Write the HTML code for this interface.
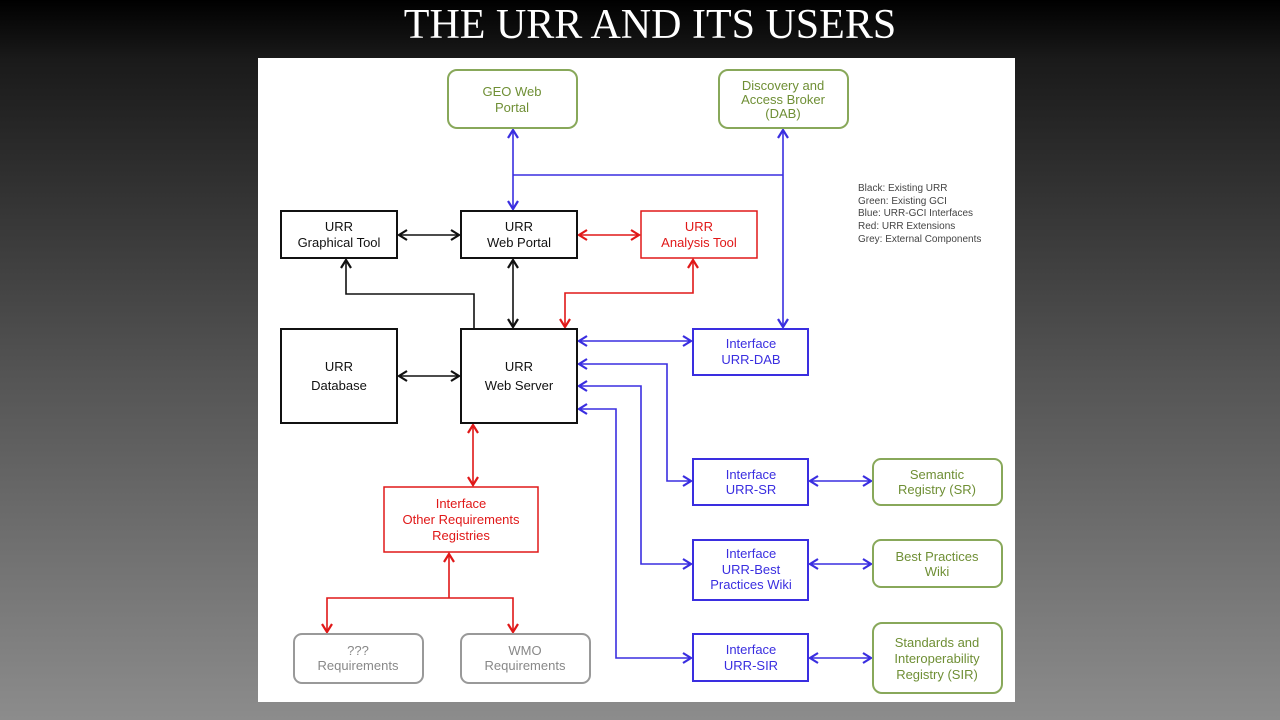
<!DOCTYPE html>
<html><head><meta charset="utf-8"><style>
html,body{margin:0;padding:0;width:1280px;height:720px;overflow:hidden}
body{background:linear-gradient(#000 0px,#1a1a1a 60px,#555 380px,#8c8c8c 720px);font-family:"Liberation Sans",sans-serif}
.t{position:absolute;left:0;width:1300px;top:1px;text-align:center;color:#fff;font:42px "Liberation Serif",serif;}
svg{position:absolute;left:0;top:0}
text{font-family:"Liberation Sans",sans-serif;font-size:13px;text-anchor:middle}
</style></head><body>
<div class="t">THE URR AND ITS USERS</div>
<svg width="1280" height="720" viewBox="0 0 1280 720">
<defs>
<marker id="k" markerWidth="12" markerHeight="12" refX="9" refY="6" orient="auto-start-reverse" markerUnits="userSpaceOnUse"><path d="M1,1 L9,6 L1,11" fill="none" stroke="#111" stroke-width="2.2"/></marker>
<marker id="r" markerWidth="12" markerHeight="12" refX="9" refY="6" orient="auto-start-reverse" markerUnits="userSpaceOnUse"><path d="M1,1 L9,6 L1,11" fill="none" stroke="#e01818" stroke-width="2.2"/></marker>
<marker id="b" markerWidth="12" markerHeight="12" refX="9" refY="6" orient="auto-start-reverse" markerUnits="userSpaceOnUse"><path d="M1,1 L9,6 L1,11" fill="none" stroke="#3a2ee0" stroke-width="2.2"/></marker>
</defs>
<rect x="258" y="58" width="757" height="644" fill="#fff"/>
<g fill="none" stroke-width="1.6">
<g stroke="#3a2ee0">
<path d="M513,130 V209" marker-start="url(#b)" marker-end="url(#b)"/>
<path d="M513,175 H783"/>
<path d="M783,130 V327" marker-start="url(#b)" marker-end="url(#b)"/>
<path d="M579,341 H691" marker-start="url(#b)" marker-end="url(#b)"/>
<path d="M691,481 H667 V364 H579" marker-start="url(#b)" marker-end="url(#b)"/>
<path d="M691,564 H641 V386 H579" marker-start="url(#b)" marker-end="url(#b)"/>
<path d="M691,658 H616 V409 H579" marker-start="url(#b)" marker-end="url(#b)"/>
<path d="M810,481 H871" marker-start="url(#b)" marker-end="url(#b)"/>
<path d="M810,564 H871" marker-start="url(#b)" marker-end="url(#b)"/>
<path d="M810,658 H871" marker-start="url(#b)" marker-end="url(#b)"/>
</g>
<g stroke="#111">
<path d="M399,235 H459" marker-start="url(#k)" marker-end="url(#k)"/>
<path d="M513,260 V327" marker-start="url(#k)" marker-end="url(#k)"/>
<path d="M474,329 V294 H346 V260" marker-end="url(#k)"/>
<path d="M399,376 H459" marker-start="url(#k)" marker-end="url(#k)"/>
</g>
<g stroke="#e01818">
<path d="M579,235 H639" marker-start="url(#r)" marker-end="url(#r)"/>
<path d="M565,327 V293 H693 V260" marker-start="url(#r)" marker-end="url(#r)"/>
<path d="M473,425 V485" marker-start="url(#r)" marker-end="url(#r)"/>
<path d="M449,598 V554" marker-end="url(#r)"/>
<path d="M327,632 V598 H513 V632" marker-start="url(#r)" marker-end="url(#r)"/>
</g>
</g>
<g fill="#fff" stroke-width="2">
<g stroke="#88a85a">
<rect x="448" y="70" width="129" height="58" rx="9"/>
<rect x="719" y="70" width="129" height="58" rx="9"/>
<rect x="873" y="459" width="129" height="46" rx="8"/>
<rect x="873" y="540" width="129" height="47" rx="8"/>
<rect x="873" y="623" width="129" height="70" rx="9"/>
</g>
<g stroke="#111">
<rect x="281" y="211" width="116" height="47"/>
<rect x="461" y="211" width="116" height="47"/>
<rect x="281" y="329" width="116" height="94"/>
<rect x="461" y="329" width="116" height="94"/>
</g>
<g stroke="#e01818" stroke-width="1.5">
<rect x="641" y="211" width="116" height="47"/>
<rect x="384" y="487" width="154" height="65"/>
</g>
<g stroke="#3a2ee0">
<rect x="693" y="329" width="115" height="46"/>
<rect x="693" y="459" width="115" height="46"/>
<rect x="693" y="540" width="115" height="60"/>
<rect x="693" y="634" width="115" height="47"/>
</g>
<g stroke="#999">
<rect x="294" y="634" width="129" height="49" rx="8"/>
<rect x="461" y="634" width="129" height="49" rx="8"/>
</g>
</g>
<g fill="#6f8f35">
<text x="512" y="96">GEO Web</text><text x="512" y="112">Portal</text>
<text x="783" y="90" font-size="12">Discovery and</text><text x="783" y="104" font-size="12">Access Broker</text><text x="783" y="118" font-size="12">(DAB)</text>
<text x="937" y="479">Semantic</text><text x="937" y="494">Registry (SR)</text>
<text x="937" y="561">Best Practices</text><text x="937" y="576">Wiki</text>
<text x="937" y="647">Standards and</text><text x="937" y="663">Interoperability</text><text x="937" y="679">Registry (SIR)</text>
</g>
<g fill="#111">
<text x="339" y="231">URR</text><text x="339" y="247">Graphical Tool</text>
<text x="519" y="231">URR</text><text x="519" y="247">Web Portal</text>
<text x="339" y="371" font-size="15">URR</text><text x="339" y="390" font-size="15">Database</text>
<text x="519" y="371" font-size="15">URR</text><text x="519" y="390" font-size="15">Web Server</text>
</g>
<g fill="#e01818">
<text x="699" y="231">URR</text><text x="699" y="247">Analysis Tool</text>
<text x="461" y="508">Interface</text><text x="461" y="524">Other Requirements</text><text x="461" y="540">Registries</text>
</g>
<g fill="#3a2ee0">
<text x="751" y="348">Interface</text><text x="751" y="364">URR-DAB</text>
<text x="751" y="479">Interface</text><text x="751" y="494">URR-SR</text>
<text x="751" y="558">Interface</text><text x="751" y="574">URR-Best</text><text x="751" y="589">Practices Wiki</text>
<text x="751" y="654">Interface</text><text x="751" y="670">URR-SIR</text>
</g>
<g fill="#888">
<text x="358" y="655">???</text><text x="358" y="670">Requirements</text>
<text x="525" y="655">WMO</text><text x="525" y="670">Requirements</text>
</g>
<g fill="#444">
<text x="858" y="191" style="text-anchor:start;font-size:10px">Black: Existing URR</text>
<text x="858" y="204" style="text-anchor:start;font-size:10px">Green: Existing GCI</text>
<text x="858" y="216" style="text-anchor:start;font-size:10px">Blue: URR-GCI Interfaces</text>
<text x="858" y="229" style="text-anchor:start;font-size:10px">Red: URR Extensions</text>
<text x="858" y="242" style="text-anchor:start;font-size:10px">Grey: External Components</text>
</g>
</svg>
</body></html>
